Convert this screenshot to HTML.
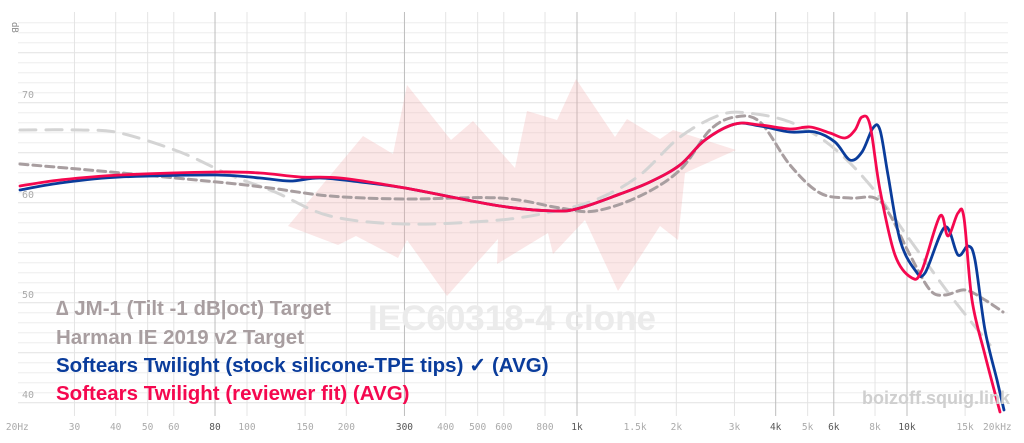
<!DOCTYPE html>
<html><head><meta charset="utf-8"><style>
html,body{margin:0;padding:0;background:#fff;width:1024px;height:443px;overflow:hidden}
svg{display:block}
</style></head><body>
<svg id="s" width="1024" height="443" xmlns="http://www.w3.org/2000/svg" font-family="Liberation Sans, sans-serif">
<g id="grid"></g>
<polygon fill="rgba(240,170,170,0.28)" points="288,226 363,136 393,154 407,85 451,140 473,121 515,168 527,111 557,120 576,79 615,137 627,119 660,139 673,130 736,150 685,173 678,240 660,226 618,291 585,220 553,254 548,233 497,264 498,239 447,296 407,240 398,258 356,236 338,245"/>
<text x="512" y="330" text-anchor="middle" font-size="35" font-weight="bold" fill="#ebebeb">IEC60318-4 clone</text>
<g id="curves" fill="none" stroke-linecap="round" stroke-linejoin="round"></g>
<g font-size="20.5" font-weight="bold">
<text x="56" y="315" fill="#a89ea0">∆ JM-1 (Tilt -1 dB|oct) Target</text>
<text x="56" y="344" fill="#a89ea0">Harman IE 2019 v2 Target</text>
<text x="56" y="372" fill="#0a3c9b">Softears Twilight (stock silicone-TPE tips) ✓ (AVG)</text>
<text x="56" y="400" fill="#f5084f">Softears Twilight (reviewer fit) (AVG)</text>
</g>
<text x="1010" y="404" text-anchor="end" font-size="18" font-weight="bold" fill="#cfcfcf">boizoff.squig.link</text>
<g font-family="DejaVu Sans Mono, Liberation Mono, monospace" font-size="10" fill="#aaa">
<text x="12" y="22" transform="rotate(90 12 22)" fill="#888" font-size="9">dB</text>
<text x="22" y="98">70</text><text x="22" y="198">60</text><text x="22" y="298">50</text><text x="22" y="398">40</text>
</g>
<g id="xl" font-family="DejaVu Sans Mono, Liberation Mono, monospace" font-size="9.5" text-anchor="middle"></g>
</svg>
<script>
var NS="http://www.w3.org/2000/svg";
function X(f){return 577+330*Math.log10(f/1000);}
function el(p,t,a,txt){var e=document.createElementNS(NS,t);for(var k in a)e.setAttribute(k,a[k]);if(txt)e.textContent=txt;p.appendChild(e);return e;}
var g=document.getElementById('grid');
for(var i=0;i<39;i++){var y=22.7+i*10;if(y>412)break;el(g,'line',{x1:18,x2:1008,y1:y,y2:y,stroke:(i%5==3?'#e2e2e2':'#eeeeee'),'stroke-width':1});}
var ticks=[[20,'20Hz',0],[30,'30',0],[40,'40',0],[50,'50',0],[60,'60',0],[80,'80',1],[100,'100',0],[150,'150',0],[200,'200',0],[300,'300',1],[400,'400',0],[500,'500',0],[600,'600',0],[800,'800',0],[1000,'1k',1],[1500,'1.5k',0],[2000,'2k',0],[3000,'3k',0],[4000,'4k',1],[5000,'5k',0],[6000,'6k',1],[8000,'8k',0],[10000,'10k',1],[15000,'15k',0],[20000,'20kHz',0]];
var xl=document.getElementById('xl');
ticks.forEach(function(t){var x=X(t[0]);if(t[0]>20&&t[0]<20000)el(g,'line',{x1:x,x2:x,y1:12,y2:416,stroke:t[2]?'#bdbdbd':'#e4e4e4','stroke-width':1});el(xl,'text',{x:t[0]==20?X(20)+1:(t[0]==20000?X(20000)-9:x),y:430,fill:t[2]?'#555':'#aaa'},t[1]);});
function path(pts){var d='M'+pts[0][0]+','+pts[0][1];for(var i=0;i<pts.length-1;i++){var p0=pts[i-1]||pts[i],p1=pts[i],p2=pts[i+1],p3=pts[i+2]||p2;var c1x=p1[0]+(p2[0]-p0[0])/6,c1y=p1[1]+(p2[1]-p0[1])/6,c2x=p2[0]-(p3[0]-p1[0])/6,c2y=p2[1]-(p3[1]-p1[1])/6;d+='C'+c1x.toFixed(1)+','+c1y.toFixed(1)+' '+c2x.toFixed(1)+','+c2y.toFixed(1)+' '+p2[0]+','+p2[1];}return d;}
var c=document.getElementById('curves');
var harman=[[20,130],[80,130],[120,133],[180,152],[230,175],[275,192],[330,216],[405,224],[500,220],[560,210],[600,198],[640,175],[680,137],[720,115],[748,113],[790,122],[830,145],[870,185],[910,240],[950,295],[990,345]];
var tilt=[[20,164],[100,171],[217,182],[270,188],[330,196],[405,199],[500,198],[560,208],[595,211],[640,196],[680,170],[710,130],[735,117],[760,122],[790,165],[820,193],[850,198],[875,198],[890,215],[910,255],[930,290],[945,295],[965,290],[985,300],[1003,312]];
var blue=[[20,190],[60,183],[120,177],[217,175],[260,178],[290,181],[320,178],[360,182],[405,188],[500,206],[555,211],[580,208],[620,194],[650,182],[680,165],[705,140],[735,124],[760,126],[790,132],[815,132],[835,142],[850,160],[862,152],[873,128],[880,130],[888,175],[900,240],[915,270],[925,273],[945,227],[958,255],[968,246],[975,260],[985,330],[997,380],[1004,410]];
var red=[[20,186],[60,180],[120,175],[217,172],[260,173],[300,177],[340,178],[405,188],[500,206],[555,211],[580,208],[620,194],[650,182],[680,165],[705,140],[735,124],[760,125],[790,129],[810,127],[830,133],[845,138],[855,130],[862,117],[870,125],[880,190],[895,255],[912,278],[922,270],[940,216],[948,236],[958,213],[964,218],[972,300],[985,355],[1000,412]];
el(c,'path',{d:path(harman),stroke:'#d4d4d4','stroke-width':3,'stroke-dasharray':'16 10'});
el(c,'path',{d:path(tilt),stroke:'#a89ea0','stroke-width':3,'stroke-dasharray':'8 5'});
el(c,'path',{d:path(blue),stroke:'#0a3c9b','stroke-width':2.8});
el(c,'path',{d:path(red),stroke:'#f5084f','stroke-width':2.8});
</script>
</body></html>
